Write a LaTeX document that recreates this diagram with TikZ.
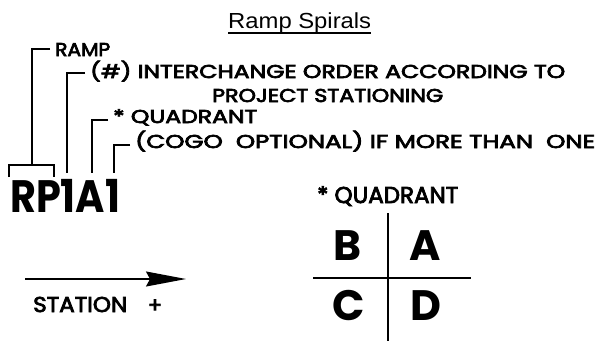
\documentclass[tikz,border=0pt]{standalone}
\usepackage{fontspec}
\usepackage{graphicx}
\setmainfont{Poppins}
\newfontfamily\medfont{Poppins}[FakeBold=3.5]
\newfontfamily\arialfont{Liberation Sans}
\usetikzlibrary{arrows.meta}
\newcommand\capfit[3]{\resizebox{#1}{#2}{\raisebox{0pt}[\fontcharht\font`H][0pt]{#3}}}
\tikzset{
  labtxt/.style={inner sep=0pt, anchor=base west, font=\medfont},
  bigtxt/.style={inner sep=0pt, anchor=base, font=\bfseries},
  brk/.style={line width=1.6pt},
  crossline/.style={line width=1.4pt}
}
\begin{document}
\begin{tikzpicture}[x=1pt,y=-1pt]
\useasboundingbox[fill=white] (0,0) rectangle (597,341);
% title
\node[labtxt,font=\arialfont] (title) at (228,28) {\capfit{143pt}{15pt}{Ramp Spirals}};
\draw[line width=1.3pt] ([yshift=-5pt]title.base west) -- ([yshift=-5pt]title.base east);
% labels
\node[labtxt] (ramp) at (55,56) {\capfit{55pt}{13pt}{RAMP}};
\node[labtxt] (inter) at (90,78) {\capfit{475pt}{13pt}{(\#) INTERCHANGE ORDER ACCORDING TO}};
\node[labtxt] (proj) at (212,102) {\capfit{231pt}{13pt}{PROJECT STATIONING}};
\node[labtxt] (quad1) at (113,123) {\capfit{144pt}{13pt}{* QUADRANT}};
\node[labtxt] (cogo) at (135,148) {\capfit{460pt}{13pt}{(COGO\ \ OPTIONAL) IF MORE THAN\ \ ONE}};
\node[labtxt,font=\bfseries] (rp) at (10,212) {\capfit{110pt}{32pt}{RP1A1}};
% brackets
\coordinate (s1) at (50,49);  \coordinate (v1) at (32,165);
\coordinate (s2) at (85,73);  \coordinate (v2) at (67,173);
\coordinate (s3) at (108,120); \coordinate (v3) at (92,173);
\coordinate (s4) at (130,145); \coordinate (v4) at (114,173);
\coordinate (bl) at (9,177); \coordinate (br) at (54,177);
\draw[brk] (s1) -| (v1);
\draw[brk] (s2) -| (v2);
\draw[brk] (s3) -| (v3);
\draw[brk] (s4) -| (v4);
\draw[brk] (bl) |- (v1) -| (br);
% station arrow
\coordinate (a0) at (25,279); \coordinate (a1) at (186,279);
\draw[line width=1.4pt,-{Stealth[length=40pt,width=15pt,inset=4pt]}] (a0) -- (a1);
\node[labtxt] (station) at (33,312) {\capfit{94pt}{15pt}{STATION}};
\node[inner sep=0pt,font=\medfont] (plus) at (155,306) {\resizebox{!}{13pt}{+}};
% quadrant
\node[labtxt] (quad2) at (317,203) {\capfit{141pt}{16pt}{* QUADRANT}};
\node[bigtxt] (qB) at (348,260) {\capfit{!}{30pt}{B}};
\node[bigtxt] (qA) at (425,260) {\capfit{!}{30pt}{A}};
\node[bigtxt] (qC) at (349,320) {\capfit{!}{30pt}{C}};
\node[bigtxt] (qD) at (426,320) {\capfit{!}{30pt}{D}};
\coordinate (ct) at (388,213); \coordinate (cb) at (388,341);
\coordinate (cl) at (313,278); \coordinate (cr) at (471,278);
\draw[crossline] (ct) -- (cb);
\draw[crossline] (cl) -- (cr);
\end{tikzpicture}
\end{document}
